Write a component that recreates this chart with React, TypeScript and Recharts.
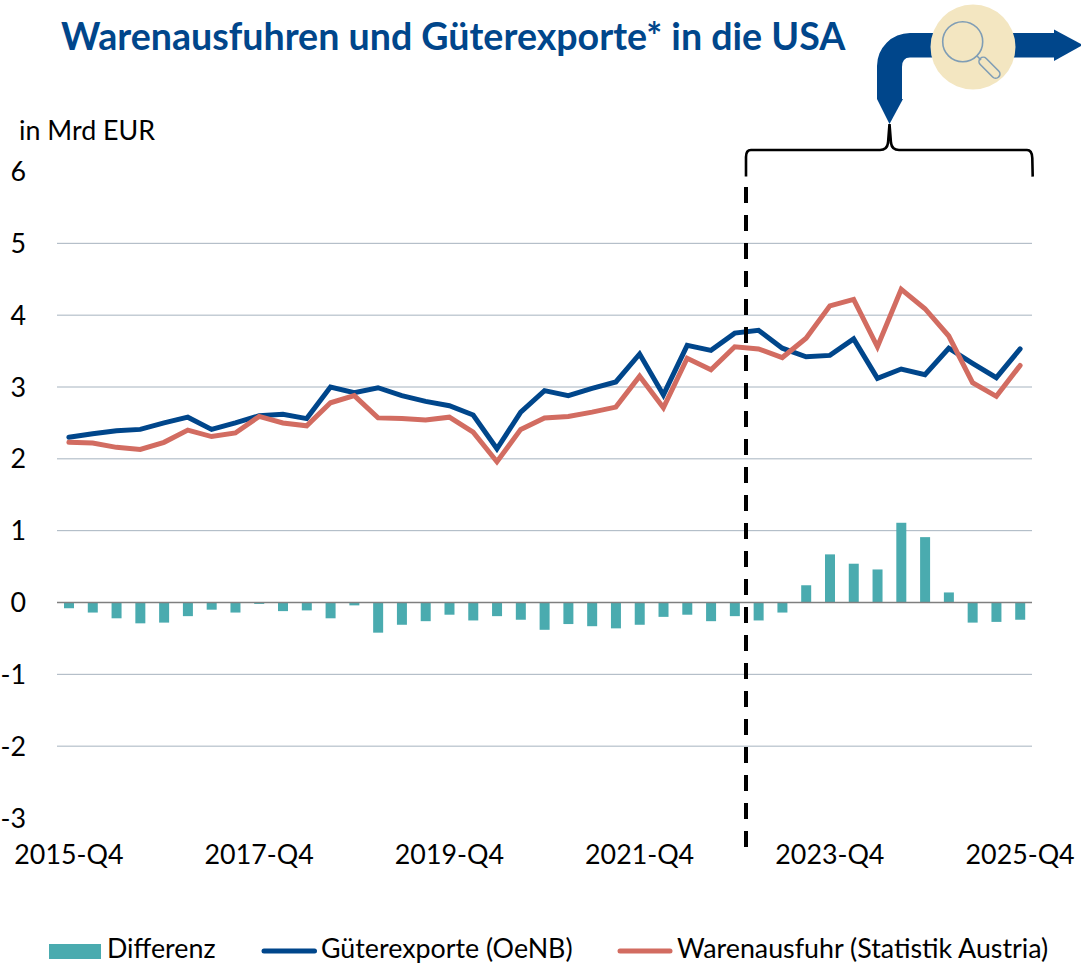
import { ComposedChart, Bar, Line, XAxis, YAxis, CartesianGrid, ReferenceLine } from "recharts";

const QUARTERS = [
  "2015-Q4",
  "2016-Q1", "2016-Q2", "2016-Q3", "2016-Q4",
  "2017-Q1", "2017-Q2", "2017-Q3", "2017-Q4",
  "2018-Q1", "2018-Q2", "2018-Q3", "2018-Q4",
  "2019-Q1", "2019-Q2", "2019-Q3", "2019-Q4",
  "2020-Q1", "2020-Q2", "2020-Q3", "2020-Q4",
  "2021-Q1", "2021-Q2", "2021-Q3", "2021-Q4",
  "2022-Q1", "2022-Q2", "2022-Q3", "2022-Q4",
  "2023-Q1", "2023-Q2", "2023-Q3", "2023-Q4",
  "2024-Q1", "2024-Q2", "2024-Q3", "2024-Q4",
  "2025-Q1", "2025-Q2", "2025-Q3", "2025-Q4",
];

const GUETEREXPORTE = [
  2.30, 2.35, 2.39, 2.41, 2.50, 2.58, 2.41, 2.50, 2.60, 2.62,
  2.56, 3.00, 2.92, 2.99, 2.88, 2.80, 2.74, 2.61, 2.14, 2.65,
  2.95, 2.88, 2.98, 3.07, 3.46, 2.89, 3.58, 3.51, 3.75, 3.79,
  3.54, 3.42, 3.44, 3.67, 3.12, 3.25, 3.17, 3.54, 3.33, 3.13, 3.53,
];

const WARENAUSFUHR = [
  2.23, 2.22, 2.16, 2.13, 2.23, 2.40, 2.31, 2.36, 2.59, 2.50,
  2.46, 2.78, 2.88, 2.57, 2.56, 2.54, 2.58, 2.37, 1.96, 2.41,
  2.57, 2.59, 2.65, 2.72, 3.15, 2.71, 3.40, 3.24, 3.56, 3.53,
  3.41, 3.68, 4.13, 4.22, 3.56, 4.36, 4.09, 3.71, 3.06, 2.87, 3.30,
];

const DIFFERENZ = [
  -0.08, -0.14, -0.22, -0.29, -0.28, -0.19, -0.10, -0.14, -0.02, -0.12,
  -0.11, -0.22, -0.04, -0.42, -0.31, -0.26, -0.17, -0.25, -0.19, -0.24,
  -0.38, -0.30, -0.33, -0.36, -0.31, -0.20, -0.17, -0.26, -0.19, -0.25,
  -0.14, 0.24, 0.67, 0.54, 0.46, 1.11, 0.91, 0.14, -0.28, -0.27, -0.24,
];

const Y_TICKS = [-3, -2, -1, 0, 1, 2, 3, 4, 5, 6];
const GRID_VALUES = [-2, -1, 1, 2, 3, 4, 5];

const BLUE = "#00468B";
const RED = "#D26C61";
const TEAL = "#4AABAF";
const FONT = "Lato, sans-serif";

const chartData = QUARTERS.map((q, i) => ({
  name: q,
  diff: DIFFERENZ[i],
  oenb: GUETEREXPORTE[i],
  statistik: WARENAUSFUHR[i],
}));

const tickStyle = { fontSize: 26.8, fill: "#000", fontFamily: FONT };

function Overlay() {
  return (
    <svg width={1081} height={964} style={{ position: "absolute", left: 0, top: 0 }}>
      {/* arrow */}
      <path d="M877 99 L877 66 A33 33 0 0 1 910 33 L1055 33 L1055 57.5 L910 57.5 Q902 57.5 902 67 L902 99 Z" fill={BLUE} />
      <path d="M877 99 L903 99 L889.5 124 Z" fill={BLUE} />
      <path d="M1054 29.5 L1083 45 L1054 61 Z" fill={BLUE} />
      {/* magnifier */}
      <circle cx={973} cy={47} r={42.5} fill="#F3E6C1" />
      <circle cx={962.7} cy={41.7} r={20} fill="none" stroke="#7F9DB5" strokeWidth={1.6} />
      <line x1={977} y1={56} x2={981} y2={60} stroke="#7F9DB5" strokeWidth={1.6} />
      <rect x={976.5} y={63.5} width={26} height={8.5} rx={4.2} fill="none" stroke="#7F9DB5" strokeWidth={1.6}
        transform="rotate(45 989.5 67.7)" />
      {/* brace */}
      <path d="M746 176.6 L746 157 Q746 150 751 150 L880 150 Q887 150 888 143 L889.5 124 L891 143 Q892 150 899 150 L1027 150 Q1032 150 1032.3 158 L1032.7 176.6"
        fill="none" stroke="#000" strokeWidth={2.6} />
      {/* start of the zoomed period */}
      <line x1={746} y1={187} x2={746} y2={847} stroke="#000" strokeWidth={4} strokeDasharray="16 12" />
      <text x={61} y={50} fontFamily={FONT} fontSize={37.6} fontWeight={700} fill={BLUE}>
        Warenausfuhren und Güterexporte* in die USA
      </text>
      <text x={19} y={139.5} fontFamily={FONT} fontSize={26.8} fill="#000">in Mrd EUR</text>
      {/* legend */}
      <rect x={49} y={944} width={52} height={15} fill={TEAL} />
      <text x={107} y={958} fontFamily={FONT} fontSize={26.8} fill="#000">Differenz</text>
      <line x1={264} y1={951} x2={314.5} y2={951} stroke={BLUE} strokeWidth={5} strokeLinecap="round" />
      <text x={321} y={958} fontFamily={FONT} fontSize={26.8} fill="#000">Güterexporte (OeNB)</text>
      <line x1={620} y1={951} x2={670} y2={951} stroke={RED} strokeWidth={5} strokeLinecap="round" />
      <text x={677} y={958} fontFamily={FONT} fontSize={26.8} fill="#000">Warenausfuhr (Statistik Austria)</text>
    </svg>
  );
}

export default function App() {
  return (
    <div style={{ position: "absolute", left: 0, top: 0, width: 1081, height: 964, overflow: "hidden", background: "#fff" }}>
      <ComposedChart
        width={1081}
        height={964}
        data={chartData}
        margin={{ top: 171.5, right: 49, left: 0, bottom: 86 }}
        barSize={10}
      >
        <CartesianGrid horizontal vertical={false} horizontalValues={GRID_VALUES} stroke="#A6B3BF" strokeWidth={1} />
        <XAxis dataKey="name" interval={7} axisLine={false} tickLine={false} tick={tickStyle} tickMargin={21} height={60} />
        <YAxis width={57} domain={[-3, 6]} ticks={Y_TICKS} interval={0} axisLine={false} tickLine={false} tick={tickStyle} tickMargin={25} />
        <Bar dataKey="diff" fill={TEAL} isAnimationActive={false} />
        <ReferenceLine y={0} stroke="#7F7F7F" strokeWidth={1.5} />
        <Line dataKey="oenb" type="linear" stroke={BLUE} strokeWidth={5} dot={false} strokeLinecap="round" isAnimationActive={false} />
        <Line dataKey="statistik" type="linear" stroke={RED} strokeWidth={5} dot={false} strokeLinecap="round" isAnimationActive={false} />
      </ComposedChart>
      <Overlay />
    </div>
  );
}
